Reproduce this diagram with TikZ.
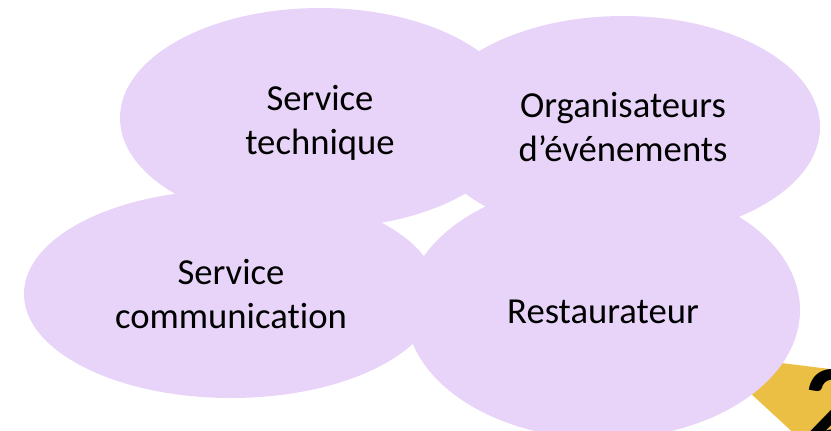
\documentclass[tikz,border=0pt]{standalone}
\usepackage{fontspec}
\setmainfont{Carlito}[Ligatures=NoCommon]
\usetikzlibrary{shapes.geometric}
\definecolor{lavande}{RGB}{232,212,248}
\definecolor{jaune}{RGB}{235,190,68}
\tikzset{
  bulle/.style={ellipse,fill=lavande,draw=none,inner sep=0pt,outer sep=0pt},
  etiquette/.style={align=center,inner sep=0pt,text=black,
    font=\fontsize{27.5}{33}\selectfont},
}

\begin{document}
\begin{tikzpicture}[x=0.75pt,y=-0.75pt]
  \useasboundingbox (0,0) rectangle (831,430);
  \clip (0,0) rectangle (831,430);
  \fill[jaune] (708,354) -- (960,385) -- (960,560) -- (931,560) -- cycle;
  \node[anchor=base west,inner sep=0pt,font=\fontsize{82.5}{90}\selectfont\bfseries] (num) at (804,441) {2};
  \node[bulle,minimum width=300pt,minimum height=165pt]     (tech)  at (320,118) {};
  \node[bulle,minimum width=295.5pt,minimum height=166.5pt] (orga)  at (623,127) {};
  \node[bulle,minimum width=310.5pt,minimum height=156pt]   (comm)  at (231,294) {};
  \node[bulle,minimum width=295.5pt,minimum height=193.5pt] (resto) at (603,310) {};
  \node[etiquette] (techlbl)  at (tech.center)  [yshift=-3.75pt] {Service\\technique};
  \node[etiquette] (orgalbl)  at (orga.center)  {Organisateurs\\d’événements};
  \node[etiquette] (commlbl)  at (comm.center)  {Service\\communication};
  \node[etiquette] (restolbl) at (resto.center) [yshift=-1.5pt] {Restaurateur};
\end{tikzpicture}
\end{document}
